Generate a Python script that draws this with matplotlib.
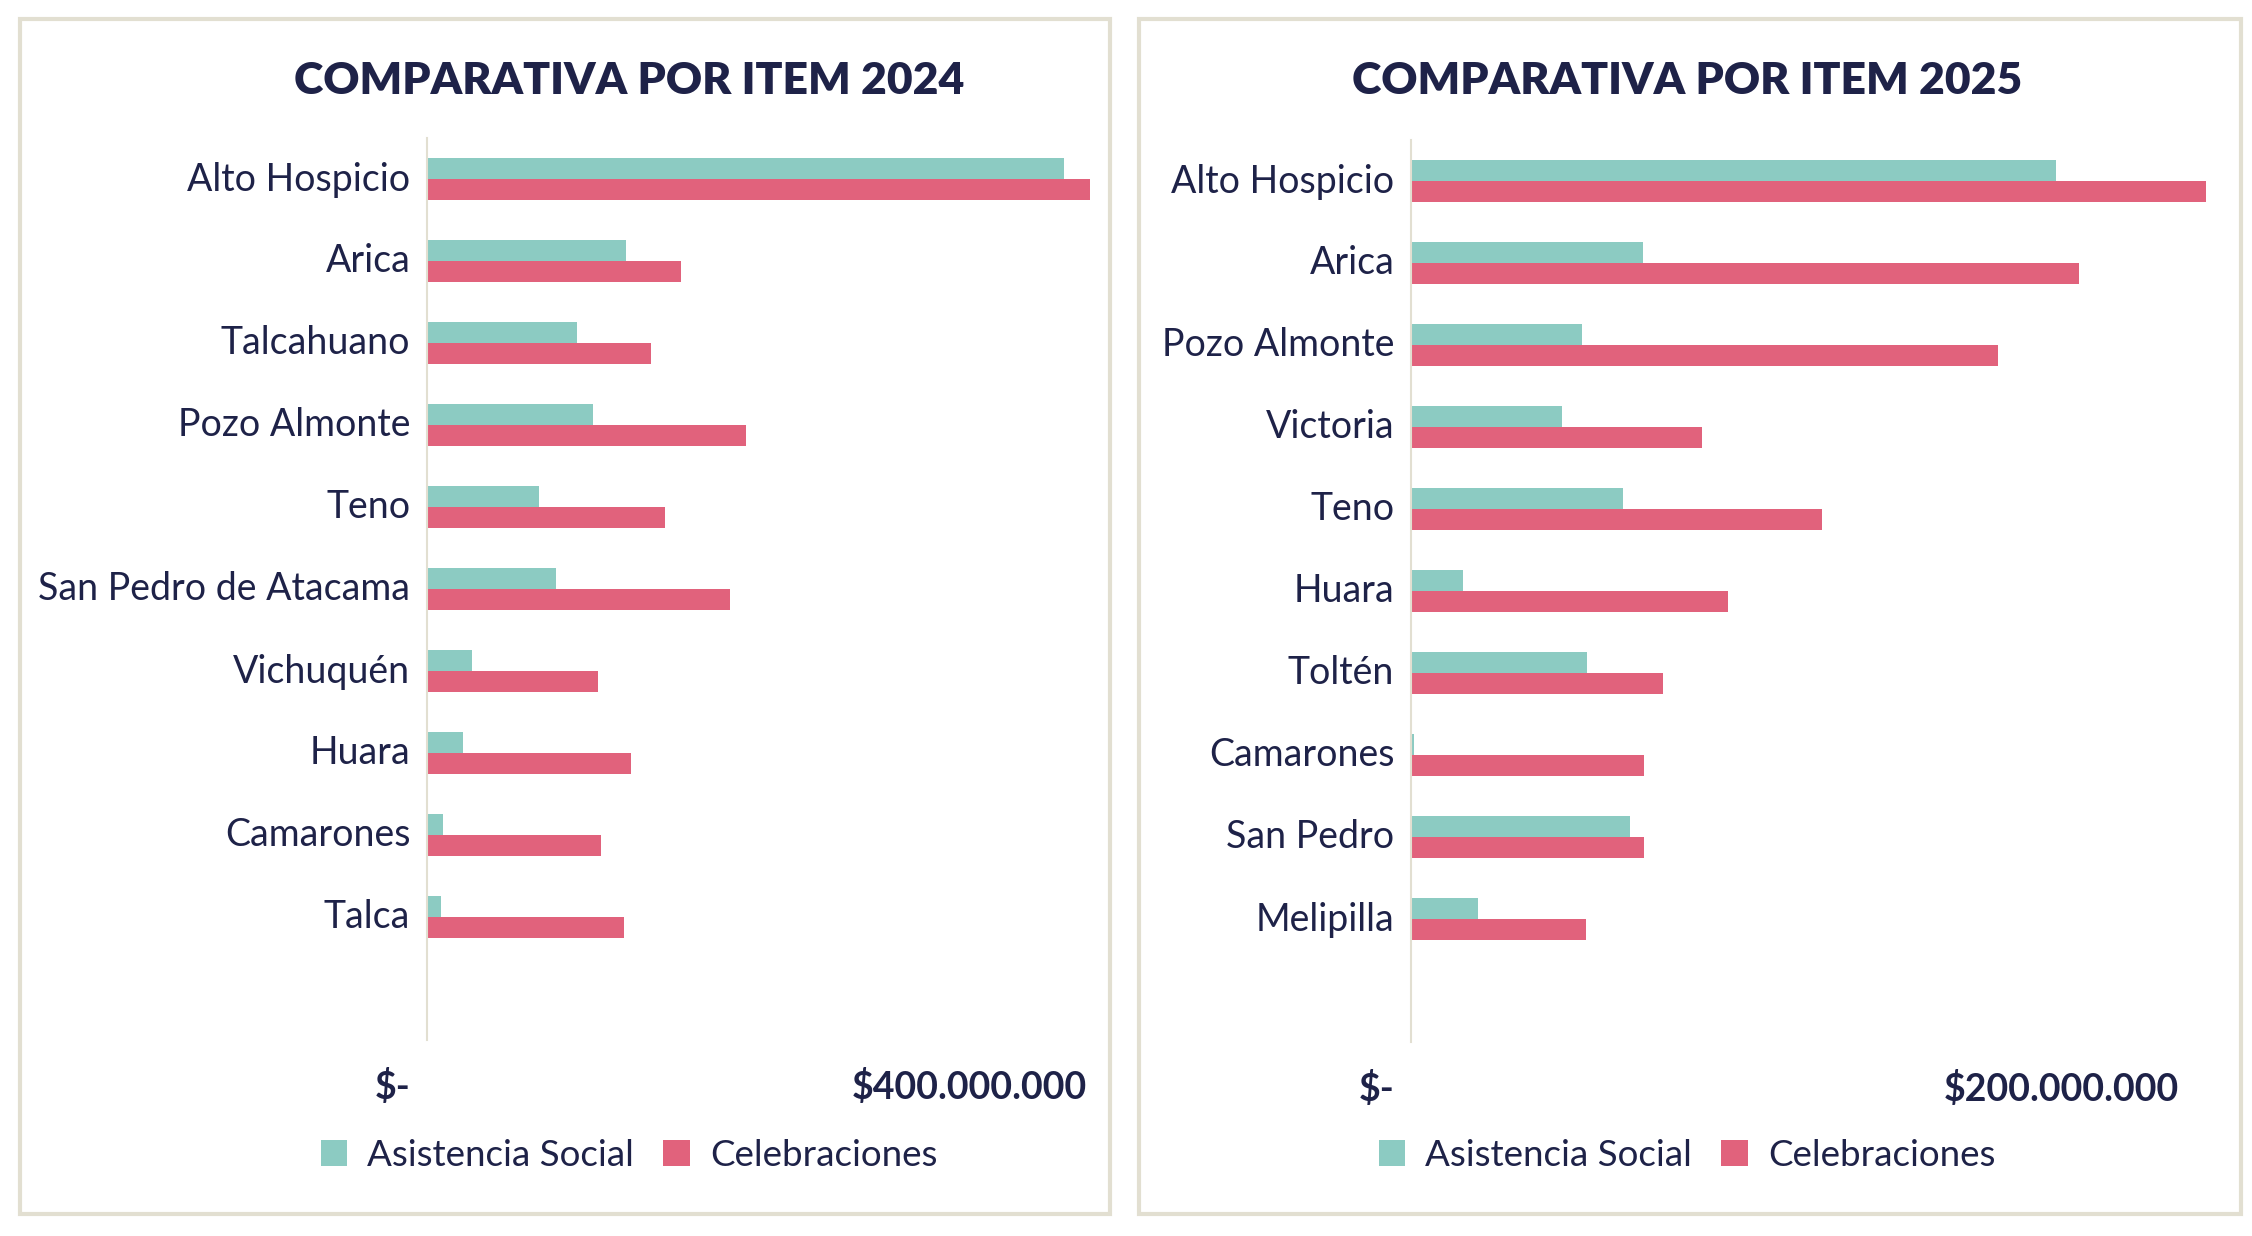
import matplotlib
matplotlib.use('Agg')
import matplotlib.pyplot as plt
import matplotlib.transforms as mtransforms
from matplotlib.patches import Rectangle
import numpy as np

plt.rcParams['font.family'] = ['Lato', 'DejaVu Sans']

# datos 2024 (millones de pesos)
cats_2024 = ['Alto Hospicio', 'Arica', 'Talcahuano', 'Pozo Almonte', 'Teno',
             'San Pedro de Atacama', 'Vichuquén', 'Huara', 'Camarones', 'Talca']
asis_2024 = [470.1, 146.9, 110.7, 122.5, 82.7, 95.2, 33.2, 26.6, 11.8, 10.3]
cele_2024 = [489.3, 187.5, 165.3, 235.4, 175.6, 223.6, 126.2, 150.6, 128.4, 145.4]

# datos 2025 (millones de pesos)
cats_2025 = ['Alto Hospicio', 'Arica', 'Pozo Almonte', 'Victoria', 'Teno',
             'Huara', 'Toltén', 'Camarones', 'San Pedro', 'Melipilla']
asis_2025 = [198.5, 71.4, 52.6, 46.5, 65.2, 16.0, 54.2, 0.9, 67.4, 20.6]
cele_2025 = [244.6, 205.5, 180.6, 89.5, 126.5, 97.5, 77.5, 71.7, 71.7, 53.8]

series_names = ['Asistencia Social', 'Celebraciones']
c_asis = '#8CCBC2'
c_cele = '#E1627C'
navy = '#1E2248'
beige = '#E2DFD1'

W, H = 2252, 1236
fig = plt.figure(figsize=(W/100, H/100), dpi=100)
fig.patch.set_facecolor('white')

# marcos de los paneles
for x0, x1 in [(20, 1110), (1139, 2241)]:
    fig.patches.append(Rectangle((x0/W, 1-1214/H), (x1-x0)/W, (1214-19)/H,
                                 transform=fig.transFigure, fill=False,
                                 edgecolor=beige, lw=3))


def panel(left_px, right_px, top_px, xmax, cats, asis, cele, tick, tick_lbl,
          title, cx):
    step = 82
    bottom_px = top_px + step*11
    ax = fig.add_axes([left_px/W, 1-bottom_px/H, (right_px-left_px)/W, (bottom_px-top_px)/H])
    y = np.arange(len(cats))
    h = 0.262
    ax.barh(y - h/2, np.array(asis)*1e6, height=h, color=c_asis, label=series_names[0])
    ax.barh(y + h/2, np.array(cele)*1e6, height=h, color=c_cele, label=series_names[1])
    ax.set_ylim(10.5, -0.5)
    ax.set_xlim(0, xmax*1e6)
    for s in ['top', 'right', 'bottom']:
        ax.spines[s].set_visible(False)
    ax.spines['left'].set_color(beige)
    ax.spines['left'].set_linewidth(1.5)
    ax.set_yticks(y, cats)
    ax.tick_params(axis='y', length=0, pad=12, labelsize=27, labelcolor=navy)
    for lb in ax.get_yticklabels():
        lb.set_transform(lb.get_transform() +
                         mtransforms.ScaledTranslation(0, 0.03, fig.dpi_scale_trans))
    ax.set_xticks([0, tick*1e6], ['$-', tick_lbl])
    ax.tick_params(axis='x', length=0, pad=21, labelsize=27, labelcolor=navy)
    for lb in ax.get_xticklabels():
        lb.set_fontweight('bold')
    lb0 = ax.get_xticklabels()[0]
    lb0.set_transform(lb0.get_transform() +
                      mtransforms.ScaledTranslation(-0.34, 0, fig.dpi_scale_trans))
    fig.text(cx/W, 1-81/H, title, ha='center', va='center', fontsize=32,
             fontweight='heavy', color=navy)
    ax.legend(loc='center', bbox_to_anchor=(cx/W, 1-1155/H),
              bbox_transform=fig.transFigure, ncol=2, frameon=False,
              fontsize=26.5, labelcolor=navy, handlelength=0.72, handleheight=0.7,
              handletextpad=0.54, columnspacing=0.8)
    return ax


panel(427, 1100, 138, 496.7, cats_2024, asis_2024, cele_2024, 400, '$400.000.000',
      'COMPARATIVA POR ITEM 2024', 629)
panel(1411, 2215, 140, 247.4, cats_2025, asis_2025, cele_2025, 200, '$200.000.000',
      'COMPARATIVA POR ITEM 2025', 1687)

fig.savefig('out.png', dpi=100, facecolor='white')
